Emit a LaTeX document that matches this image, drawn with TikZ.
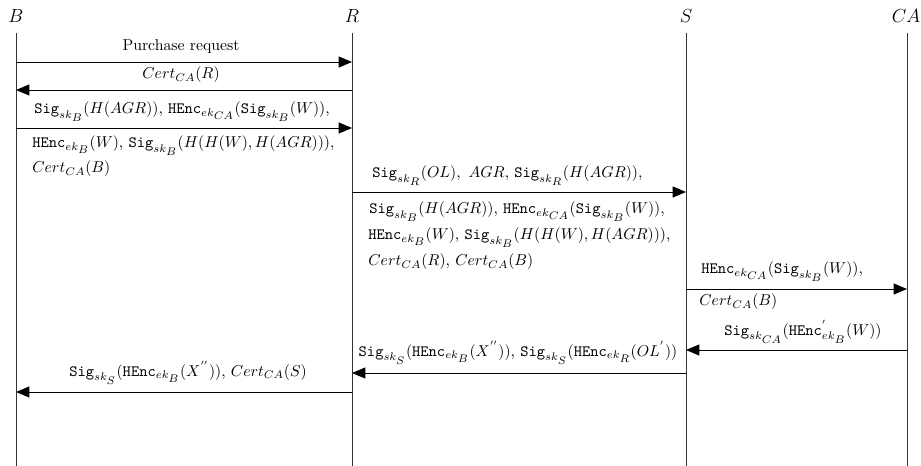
\documentclass[tikz,border=0pt]{standalone}
\usetikzlibrary{arrows.meta}
\newcommand{\tSig}{\texttt{Sig}}
\newcommand{\tHEnc}{\texttt{HEnc}}
\newcommand{\sst}[1]{{\scriptstyle #1}}
\begin{document}
\begin{tikzpicture}[x=0.635pt,y=-0.635pt,
  head/.style={font=\large,inner sep=0pt},
  life/.style={draw=black!80,line width=0.5pt},
  msg/.style={draw=black,line width=0.6pt,-{Triangle[length=8.5pt,width=7pt]}},
  lbl/.style={inner sep=0pt},
  lblw/.style={inner sep=0pt,anchor=west}]
\useasboundingbox (0,0) rectangle (921,466);
% heads
\node[head] (B) at (16,16) {$B$};
\node[head] (R) at (352,16) {$R$};
\node[head] (S) at (686,16) {$S$};
\node[head] (CA) at (906,16) {$CA$};
% lifelines
\coordinate (Bt) at (16,33);  \coordinate (Bb) at (16,466);
\coordinate (Rt) at (352,33); \coordinate (Rb) at (352,466);
\coordinate (St) at (686,33); \coordinate (Sb) at (686,466);
\coordinate (Ct) at (907,33); \coordinate (Cb) at (907,466);
\draw[life] (Bt) -- (Bb);
\draw[life] (Rt) -- (Rb);
\draw[life] (St) -- (Sb);
\draw[life] (Ct) -- (Cb);
% message rows
\coordinate (m1) at (0,62);
\coordinate (m2) at (0,90);
\coordinate (m3) at (0,128);
\coordinate (m4) at (0,192);
\coordinate (m5) at (0,289);
\coordinate (m6) at (0,350);
\coordinate (m7) at (0,373);
\coordinate (m8) at (0,392);
% 1
\draw[msg] (Bt |- m1) -- (Rt |- m1);
\node[lbl] (l1) at (181,47) {Purchase request};
% 2
\draw[msg] (Rt |- m2) -- (Bt |- m2);
\node[lbl] (l2) at (181,75) {$Cert_{CA}(R)$};
% 3
\draw[msg] (Bt |- m3) -- (Rt |- m3);
\node[lblw] (l3a) at (34,112) {$\tSig_{sk_{\sst B}}(H(AGR))$, $\tHEnc_{ek_{\sst{CA}}}(\tSig_{sk_{\sst B}}(W))$,};
\node[lblw] (l3b) at (32,146) {$\tHEnc_{ek_{\sst B}}(W)$, $\tSig_{sk_{\sst B}}(H(H(W),H(AGR)))$,};
\node[lblw] (l3c) at (32,169) {$Cert_{CA}(B)$};
% 4
\draw[msg] (Rt |- m4) -- (St |- m4);
\node[lblw] (l4a) at (372,176) {$\tSig_{sk_{\sst R}}(OL),\ AGR$, $\tSig_{sk_{\sst R}}(H(AGR))$,};
\node[lblw] (l4b) at (369,212) {$\tSig_{sk_{\sst B}}(H(AGR))$, $\tHEnc_{ek_{\sst{CA}}}(\tSig_{sk_{\sst B}}(W))$,};
\node[lblw] (l4c) at (368,238) {$\tHEnc_{ek_{\sst B}}(W)$, $\tSig_{sk_{\sst B}}(H(H(W),H(AGR)))$,};
\node[lblw] (l4d) at (368,262) {$Cert_{CA}(R)$, $Cert_{CA}(B)$};
% 5
\draw[msg] (St |- m5) -- (Ct |- m5);
\node[lblw] (l5a) at (701,272) {$\tHEnc_{ek_{\sst{CA}}}(\tSig_{sk_{\sst B}}(W))$,};
\node[lblw] (l5b) at (699,302) {$Cert_{CA}(B)$};
% 6
\draw[msg] (Ct |- m6) -- (St |- m6);
\node[lbl] (l6) at (803,332) {$\tSig_{sk_{\sst{CA}}}(\tHEnc^{'}_{ek_{\sst B}}(W))$};
% 7
\draw[msg] (St |- m7) -- (Rt |- m7);
\node[lbl] (l7) at (518,353) {$\tSig_{sk_{\sst S}}(\tHEnc_{ek_{\sst B}}(X^{''}))$, $\tSig_{sk_{\sst S}}(\tHEnc_{ek_{\sst R}}(OL^{'}))$};
% 8
\draw[msg] (Rt |- m8) -- (Bt |- m8);
\node[lbl] (l8) at (188,373) {$\tSig_{sk_{\sst S}}(\tHEnc_{ek_{\sst B}}(X^{''}))$, $Cert_{CA}(S)$};
\end{tikzpicture}
\end{document}
